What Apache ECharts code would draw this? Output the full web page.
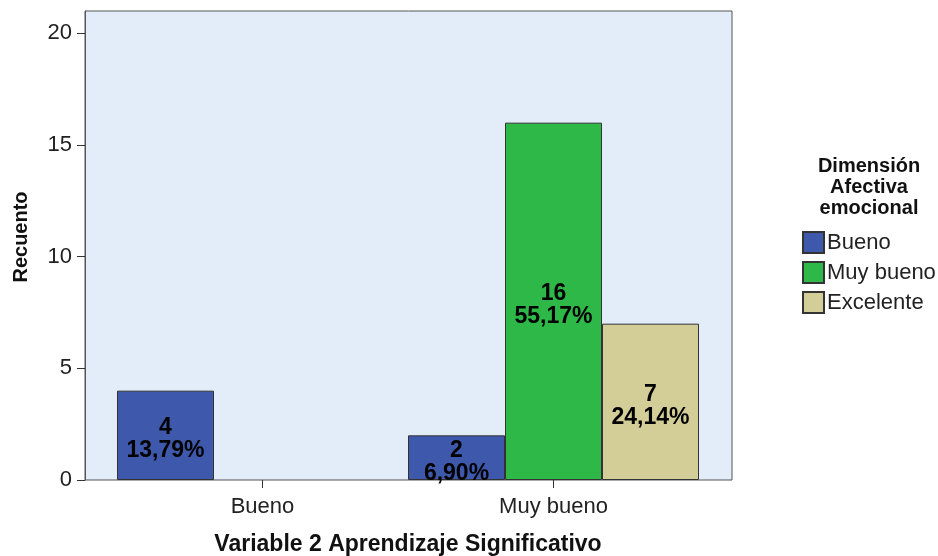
<!DOCTYPE html>
<html>
<head>
<meta charset="utf-8">
<script src="https://cdn.jsdelivr.net/npm/echarts@6/dist/echarts.min.js"></script>
<style>
html,body{margin:0;padding:0;background:#fff;}
#chart{width:938px;height:556px;}
</style>
</head>
<body>
<div id="chart"></div>
<script>
const categories = ['Bueno', 'Muy bueno'];
const seriesNames = ['Bueno', 'Muy bueno', 'Excelente'];
const countsBueno = [4, 2];
const countsMuyBueno = [null, 16];
const countsExcelente = [null, 7];
const pctBueno = ['13,79%', '6,90%'];
const pctMuyBueno = ['', '55,17%'];
const pctExcelente = ['', '24,14%'];
const yTicks = [0, 5, 10, 15, 20];

const FONT = '"Liberation Sans", Arial, sans-serif';
const colors = ['#3E58AC', '#2EB848', '#D3CE97'];

function makeSeries(name, data, pct, color) {
  return {
    name: name,
    type: 'bar',
    xAxisIndex: 1,
    yAxisIndex: 1,
    data: data,
    barGap: '0%',
    barCategoryGap: '0%',
    itemStyle: { color: color, borderColor: '#333', borderWidth: 1 },
    emphasis: { disabled: true },
    label: {
      show: true,
      position: 'inside',
      offset: [0, 4],
      fontFamily: FONT,
      fontSize: 23,
      fontWeight: 'bold',
      color: '#000',
      lineHeight: 23,
      formatter: function (p) { return p.value + '\n' + pct[p.dataIndex]; }
    }
  };
}

const chart = echarts.init(document.getElementById('chart'), null, { renderer: 'canvas' });
chart.setOption({
  animation: false,
  backgroundColor: '#ffffff',
  textStyle: { fontFamily: FONT },
  title: {
    text: 'Dimensión\nAfectiva\nemocional',
    left: 864,
    textAlign: 'center',
    top: 151,
    textStyle: { fontFamily: FONT, fontSize: 20, fontWeight: 'bold', color: '#111', lineHeight: 21 }
  },
  legend: {
    orient: 'vertical',
    left: 797,
    top: 226,
    icon: 'rect',
    itemWidth: 21,
    itemHeight: 21,
    itemGap: 7,
    selectedMode: false,
    data: seriesNames,
    textStyle: { fontFamily: FONT, fontSize: 22, color: '#222', padding: [0, 0, 0, -2] }
  },
  grid: [
    { left: 85, top: 11, width: 647, height: 469, show: true, backgroundColor: '#E3EDFA', borderColor: '#555', borderWidth: 1, outerBoundsMode: 'none', containLabel: false },
    { left: 117, top: 11, width: 582, height: 469, outerBoundsMode: 'none', containLabel: false }
  ],
  xAxis: [
    { type: 'value', gridIndex: 0, show: false, min: 0, max: 1 },
    {
      type: 'category', gridIndex: 1, data: categories,
      axisLine: { show: false },
      axisTick: { show: true, alignWithLabel: true, length: 8, lineStyle: { color: '#333' } },
      axisLabel: { fontFamily: FONT, fontSize: 22, color: '#222', margin: 16 },
      name: 'Variable 2 Aprendizaje Significativo',
      nameLocation: 'middle',
      nameGap: 53,
      nameTextStyle: { fontFamily: FONT, fontSize: 23, fontWeight: 'bold', color: '#111' }
    }
  ],
  yAxis: [
    {
      type: 'value', gridIndex: 0, min: 0, max: 21, interval: 5,
      splitLine: { show: false },
      axisLine: { show: true, lineStyle: { color: '#555' } },
      axisTick: { show: true, length: 8, customValues: yTicks, lineStyle: { color: '#333' } },
      axisLabel: { fontFamily: FONT, fontSize: 22, color: '#222', margin: 13, customValues: yTicks }
    },
    { type: 'value', gridIndex: 1, min: 0, max: 21, show: false }
  ],
  graphic: [
    {
      type: 'text',
      x: 21, y: 237,
      rotation: Math.PI / 2,
      style: { text: 'Recuento', fontFamily: FONT, fontSize: 20, fontWeight: 'bold', fill: '#111', textAlign: 'center', textVerticalAlign: 'middle' }
    }
  ],
  series: [
    makeSeries(seriesNames[0], countsBueno, pctBueno, colors[0]),
    makeSeries(seriesNames[1], countsMuyBueno, pctMuyBueno, colors[1]),
    makeSeries(seriesNames[2], countsExcelente, pctExcelente, colors[2])
  ]
});
</script>
</body>
</html>
